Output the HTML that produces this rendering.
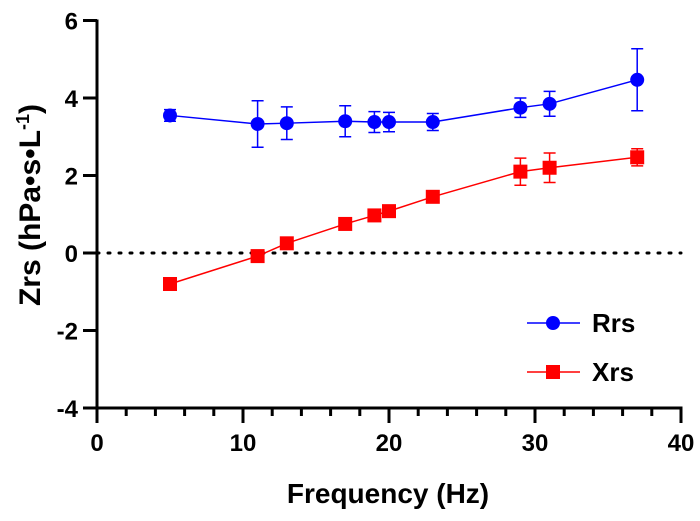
<!DOCTYPE html>
<html><head><meta charset="utf-8"><style>
body{margin:0;background:#fff}
svg text{font-family:"Liberation Sans",Arial,sans-serif;font-weight:bold;fill:#000}
</style></head><body>
<svg id="chart" width="700" height="516" viewBox="0 0 700 516" xmlns="http://www.w3.org/2000/svg">
<g id="grid"></g><g id="marks"></g>
</svg>
<script>
const freqs=[5,11,13,17,19,20,23,29,31,37];
const rrsVals=[3.55,3.33,3.35,3.4,3.38,3.38,3.38,3.75,3.85,4.47];
const rrsErr=[0.15,0.6,0.42,0.4,0.27,0.25,0.22,0.25,0.32,0.8];
const xrsVals=[-0.8,-0.08,0.25,0.75,0.97,1.08,1.45,2.1,2.2,2.47];
const xrsErr=[0.05,0.05,0.05,0.05,0.05,0.05,0.05,0.35,0.38,0.22];
const xTicks=[0,10,20,30,40];
const yTicks=[-4,-2,0,2,4,6];
const X=v=>97+v*14.6;
const Y=v=>253-v*38.75;
const NS="http://www.w3.org/2000/svg";
const g=document.getElementById('grid'),m=document.getElementById('marks');
function el(p,t,a){const e=document.createElementNS(NS,t);for(const k in a)e.setAttribute(k,a[k]);p.appendChild(e);return e;}
let e;
e=el(g,'line',{x1:X(0),x2:X(40),y1:Y(0),y2:Y(0),stroke:'#000','stroke-width':3,'stroke-dasharray':'2 9','stroke-linecap':'round'});

e=el(g,'line',{x1:X(0),x2:X(0),y1:Y(6)-1,y2:Y(-4)+1.5,stroke:'#000','stroke-width':3});

e=el(g,'line',{x1:X(0)-1.5,x2:X(40)+1.5,y1:Y(-4),y2:Y(-4),stroke:'#000','stroke-width':3});

yTicks.forEach(v=>{
 e=el(g,'line',{x1:X(0)-14,x2:X(0),y1:Y(v),y2:Y(v),stroke:'#000','stroke-width':3});
 
 e=el(g,'text',{x:X(0)-19,y:Y(v)+9,'text-anchor':'end','font-size':24});e.textContent=v;
 
});
for(let v=0;v<=40;v+=2){
 const major=v%10===0;
 e=el(g,'line',{x1:X(v),x2:X(v),y1:Y(-4),y2:Y(-4)+(major?15:8),stroke:'#000','stroke-width':3});
 
}
xTicks.forEach(v=>{
 e=el(g,'text',{x:X(v),y:Y(-4)+43,'text-anchor':'middle','font-size':24});e.textContent=v;
 
});
e=el(g,'text',{x:388,y:503,'text-anchor':'middle','font-size':28});e.textContent='Frequency (Hz)';

e=el(g,'text',{x:0,y:0,'text-anchor':'middle','font-size':30,transform:'translate(40,205) rotate(-90)'});
e.innerHTML='Zrs (hPa•s•L<tspan dy="-11" font-size="18">-1</tspan><tspan dy="11">)</tspan>';

function series(vals,errs,color,shape,name){
 const pts=freqs.map((f,i)=>X(f)+','+Y(vals[i])).join(' ');
 e=el(m,'polyline',{points:pts,fill:'none',stroke:color,'stroke-width':1.5});
 
 freqs.forEach((f,i)=>{
  const x=X(f),yt=Y(vals[i]+errs[i]),yb=Y(vals[i]-errs[i]);
  e=el(m,'path',{d:`M${x} ${yt}V${yb}M${x-6} ${yt}H${x+6}M${x-6} ${yb}H${x+6}`,stroke:color,'stroke-width':1.5,fill:'none'});
  
  if(shape==='c')e=el(m,'circle',{cx:x,cy:Y(vals[i]),r:7,fill:color});
  else e=el(m,'rect',{x:x-7,y:Y(vals[i])-7,width:14,height:14,fill:color});
  
 });
}
series(rrsVals,rrsErr,'#0000ff','c','rrs');
series(xrsVals,xrsErr,'#ff0000','s','xrs');
e=el(g,'line',{x1:527,x2:580,y1:323,y2:323,stroke:'#0000ff','stroke-width':1.5});

e=el(g,'circle',{cx:553,cy:323,r:7,fill:'#0000ff'});

e=el(g,'text',{x:592,y:332,'font-size':26});e.textContent='Rrs';

e=el(g,'line',{x1:527,x2:580,y1:372,y2:372,stroke:'#ff0000','stroke-width':1.5});

e=el(g,'rect',{x:546,y:365,width:14,height:14,fill:'#ff0000'});

e=el(g,'text',{x:592,y:381,'font-size':26});e.textContent='Xrs';

</script>
</body></html>
